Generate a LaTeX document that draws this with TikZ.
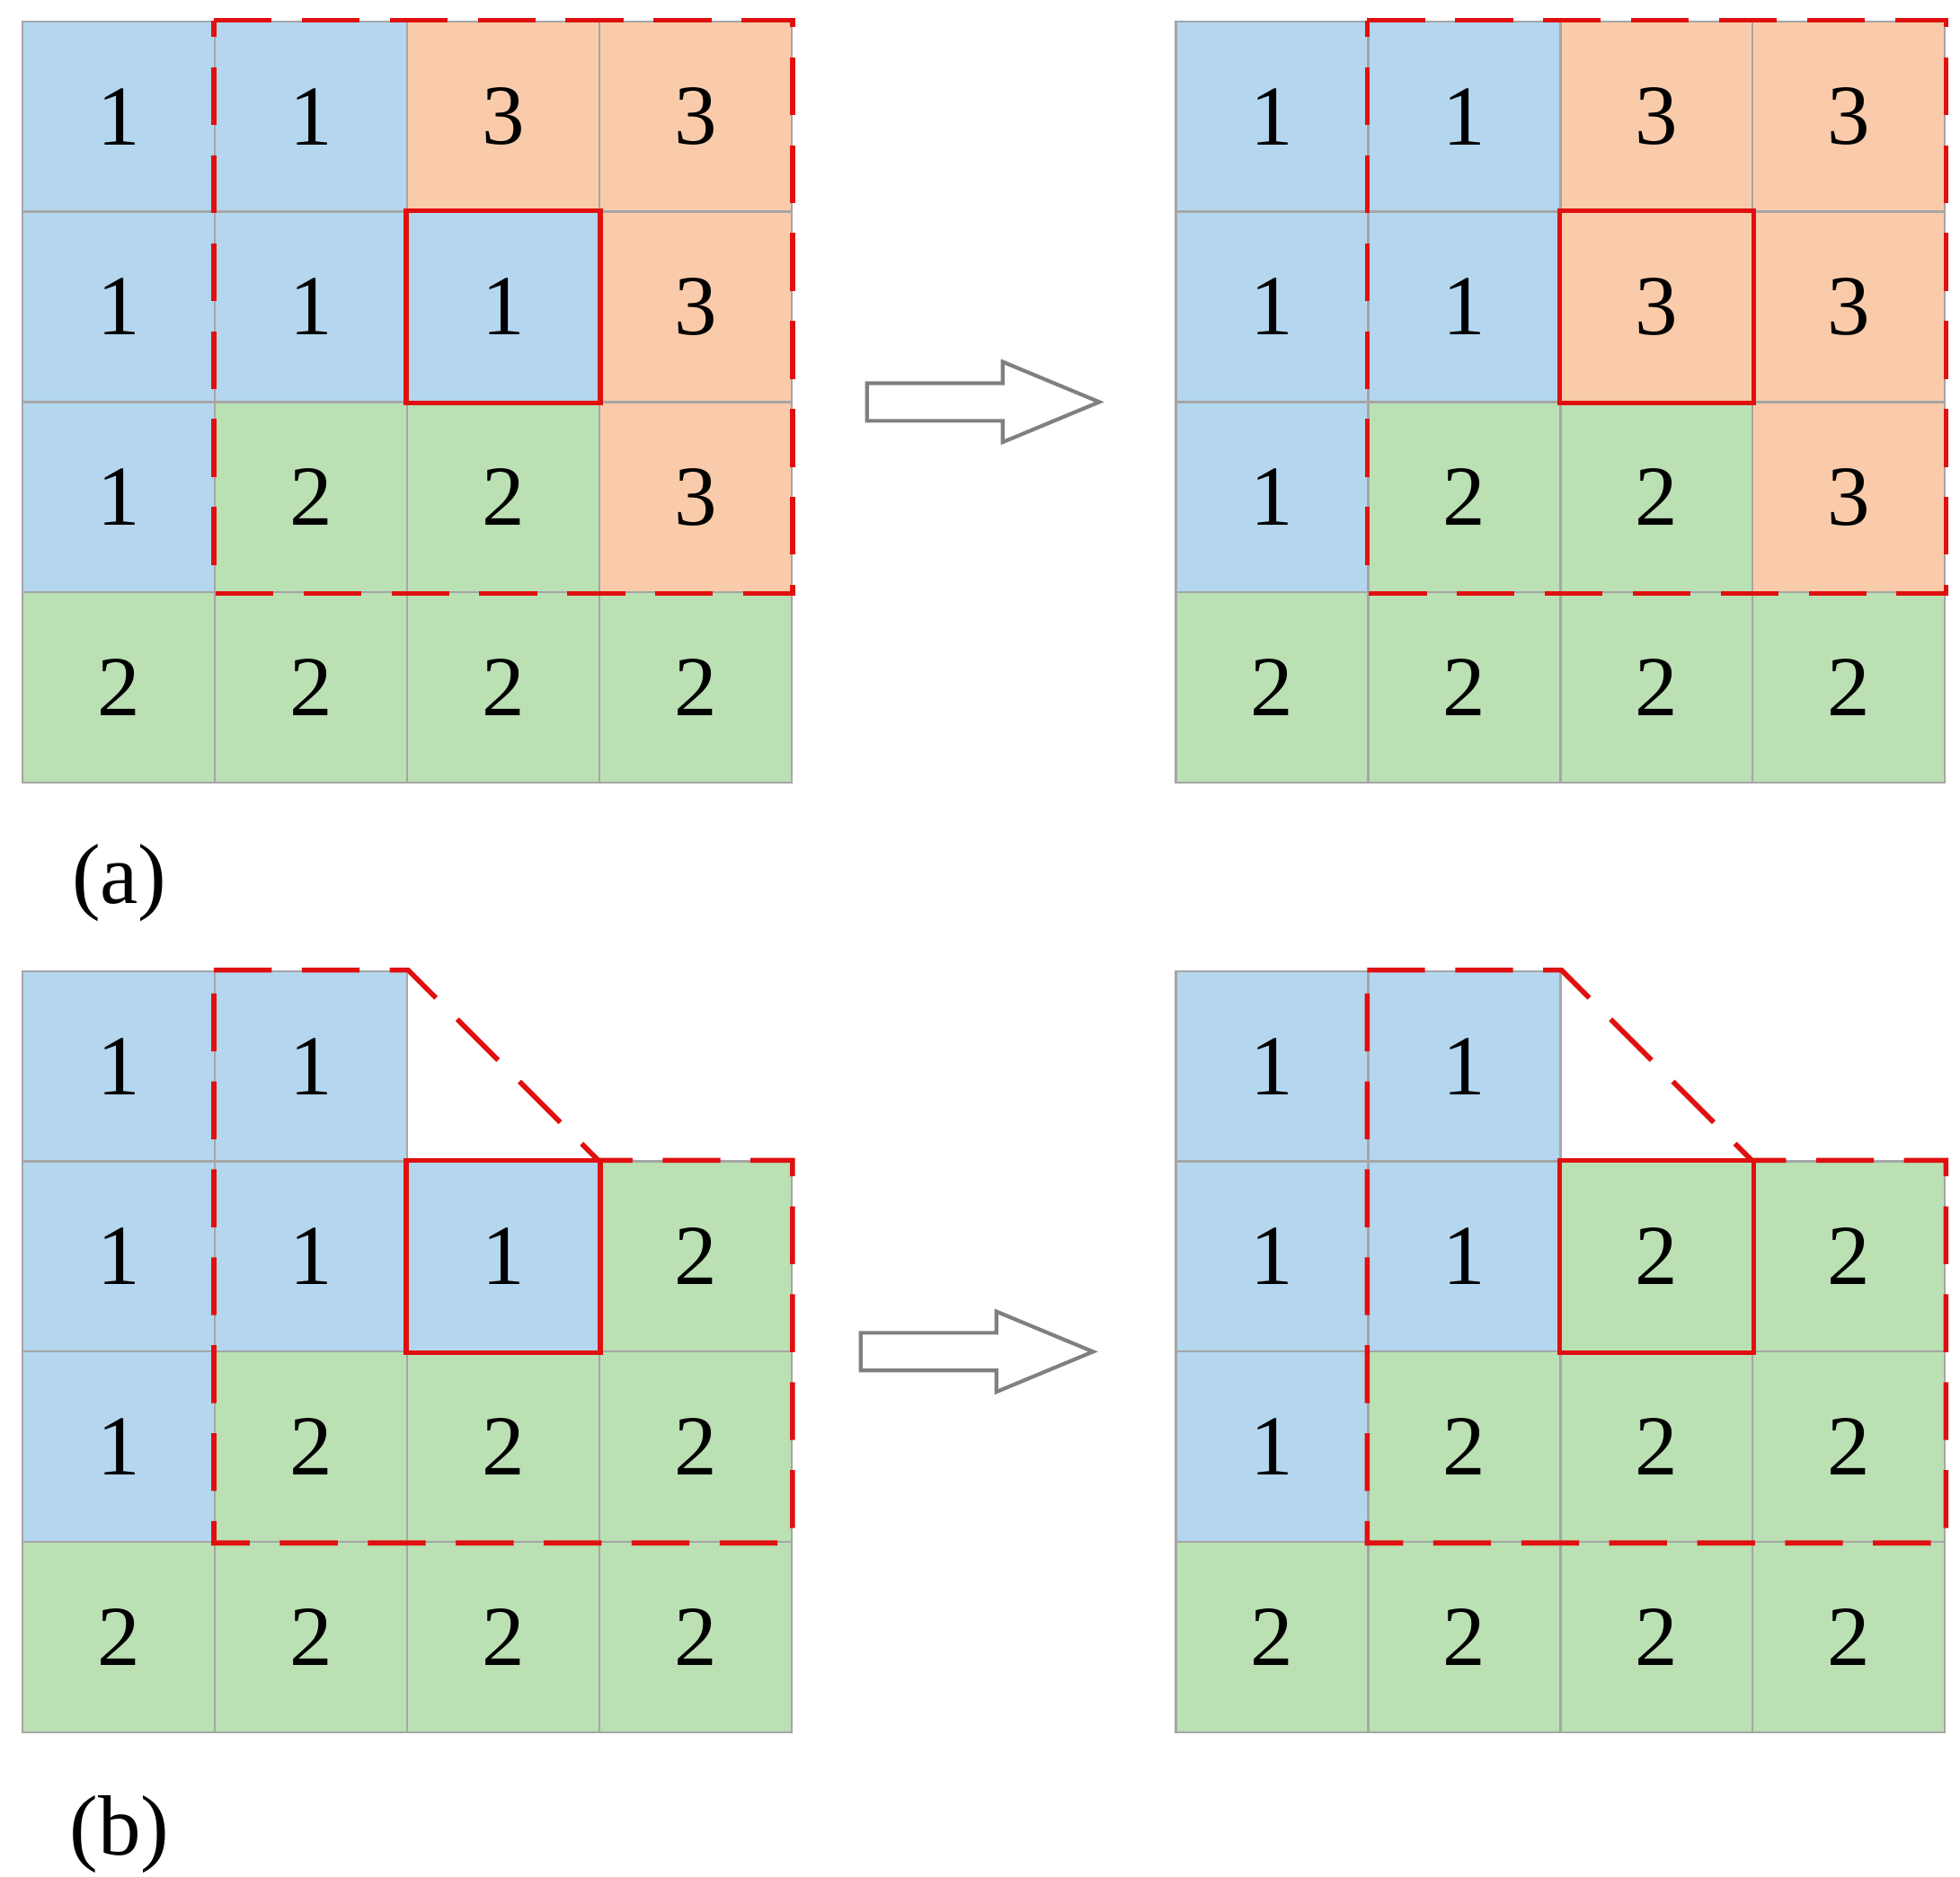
\documentclass[tikz,border=0pt]{standalone}
\usepackage{fontspec}
\setmainfont{Liberation Serif}
\definecolor{cc1}{HTML}{B4D6EE}
\definecolor{cc2}{HTML}{BAE0B3}
\definecolor{cc3}{HTML}{F9CBAA}
\definecolor{rd}{HTML}{E01010}
\newcommand\mypanel[4]{\foreach \r/\c/\v in {#4}{\node[cell,fill=cc\v] (#1-\r-\c) at ({#2+(\c-0.5)*153},{#3+(\r-0.5)*151.5}) {\v};}}
\begin{document}
\begin{tikzpicture}[x=0.5pt,y=-0.5pt,
 cell/.style={draw=black!35,line width=0.8pt,minimum width=76.5pt,minimum height=75.75pt,inner sep=0pt,font=\fontsize{34}{40}\selectfont},
 rdash/.style={draw=rd,line width=2pt,dash pattern=on 23pt off 12pt},
 rsolid/.style={draw=rd,line width=2pt},
 barrow/.style={draw=black!50,line width=1.5pt,fill=white},
 lab/.style={font=\fontsize{34}{40}\selectfont}]
\useasboundingbox (0,0) rectangle (1560,1494);
\mypanel{a}{18}{17}{1/1/1,1/2/1,1/3/3,1/4/3,2/1/1,2/2/1,2/3/1,2/4/3,3/1/1,3/2/2,3/3/2,3/4/3,4/1/2,4/2/2,4/3/2,4/4/2}
\mypanel{c}{936}{17}{1/1/1,1/2/1,1/3/3,1/4/3,2/1/1,2/2/1,2/3/3,2/4/3,3/1/1,3/2/2,3/3/2,3/4/3,4/1/2,4/2/2,4/3/2,4/4/2}
\mypanel{b}{18}{773}{1/1/1,1/2/1,2/1/1,2/2/1,2/3/1,2/4/2,3/1/1,3/2/2,3/3/2,3/4/2,4/1/2,4/2/2,4/3/2,4/4/2}
\mypanel{d}{936}{773}{1/1/1,1/2/1,2/1/1,2/2/1,2/3/2,2/4/2,3/1/1,3/2/2,3/3/2,3/4/2,4/1/2,4/2/2,4/3/2,4/4/2}
% dashed regions
\draw[rdash] (a-1-2.north west) -- (a-1-4.north east) -- (a-3-4.south east) -- (a-3-2.south west) -- cycle;
\draw[rdash] (c-1-2.north west) -- (c-1-4.north east) -- (c-3-4.south east) -- (c-3-2.south west) -- cycle;
\draw[rdash] (b-1-2.north west) -- (b-1-2.north east) -- (b-2-4.north west) -- (b-2-4.north east) -- (b-3-4.south east) -- (b-3-2.south west) -- cycle;
\draw[rdash] (d-1-2.north west) -- (d-1-2.north east) -- (d-2-4.north west) -- (d-2-4.north east) -- (d-3-4.south east) -- (d-3-2.south west) -- cycle;
\foreach \p in {a,b,c,d}{\draw[rsolid] (\p-2-3.north west) rectangle (\p-2-3.south east);}
% arrows
\draw[barrow] (690,305) -- (798,305) -- (798,288) -- (875,320) -- (798,352) -- (798,335) -- (690,335) -- cycle;
\draw[barrow] (685,1061) -- (793,1061) -- (793,1044) -- (870,1076) -- (793,1108) -- (793,1091) -- (685,1091) -- cycle;
\node[lab] (la) at (95,703) {(a)};
\node[lab] (lb) at (95,1460) {(b)};
\end{tikzpicture}
\end{document}
